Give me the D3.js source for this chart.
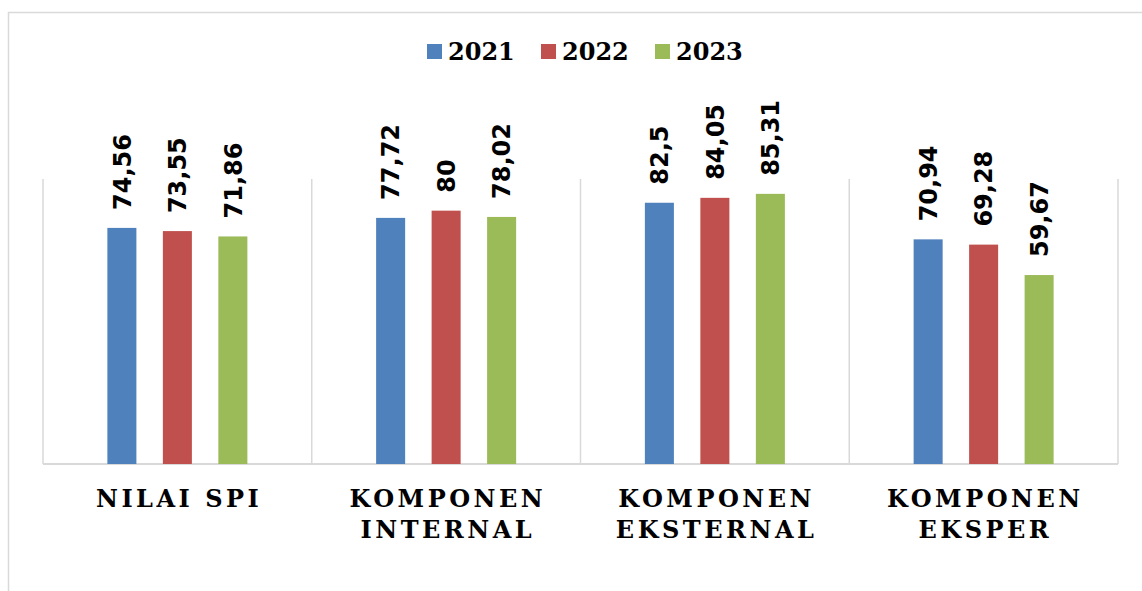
<!DOCTYPE html>
<html>
<head>
  <title>SPI chart</title>
  <script src="https://d3js.org/d3.v7.min.js"></script>
  <style>
  body {
    margin: 0;
    background: #fff;
  }
  .value {
    font-family: "DejaVu Sans", Verdana, sans-serif;
    font-weight: bold;
    font-size: 24px;
    fill: #000;
  }
  .legend text {
    font-family: "DejaVu Serif", serif;
    font-weight: bold;
    font-size: 24px;
    fill: #000;
  }
  .cat {
    font-family: "DejaVu Serif", serif;
    font-weight: bold;
    font-size: 24px;
    letter-spacing: 3.5px;
    fill: #000;
  }
  </style>
</head>
<body>
  <script>
    var categories = ["NILAI SPI", "KOMPONEN INTERNAL", "KOMPONEN EKSTERNAL", "KOMPONEN EKSPER"];
    var categoryLines = [["NILAI SPI"], ["KOMPONEN", "INTERNAL"], ["KOMPONEN", "EKSTERNAL"], ["KOMPONEN", "EKSPER"]];
    var years = ["2021", "2022", "2023"];
    var values2021 = [74.56, 77.72, 82.5, 70.94];
    var values2022 = [73.55, 80, 84.05, 69.28];
    var values2023 = [71.86, 78.02, 85.31, 59.67];
    var colors = ["#4f81bd", "#c0504d", "#9bbb59"];

    var seriesValues = [values2021, values2022, values2023];

    var width = 1142;
    var height = 591;

    var svg = d3.select("body")
      .append("svg")
      .attr("width", width)
      .attr("height", height);

    // outer chart frame (runs off the page right and bottom)
    svg.append("path")
      .attr("d", "M8.5," + (height + 2) + "V12.5H" + (width + 2))
      .attr("fill", "none")
      .attr("stroke", "#d9d9d9")
      .attr("stroke-width", 1.5);

    var x0 = d3.scaleBand()
      .domain(categories)
      .range([43, 1118])
      .padding(0);

    var x1 = d3.scaleBand()
      .domain(years)
      .range([0, x0.bandwidth()])
      .paddingInner(0.477)
      .paddingOuter(1.16);

    var y = d3.scaleLinear()
      .domain([0, 90])
      .range([464, 179]);

    // category separators
    var edges = categories.map(function(c) { return x0(c); }).concat([x0.range()[1]]);
    svg.append("g")
      .selectAll("line")
      .data(edges)
      .enter()
      .append("line")
      .attr("x1", function(d) { return d; })
      .attr("x2", function(d) { return d; })
      .attr("y1", y(90))
      .attr("y2", y(0))
      .attr("stroke", "#d9d9d9")
      .attr("stroke-width", 1.5);

    // baseline
    svg.append("line")
      .attr("x1", 43)
      .attr("x2", 1118)
      .attr("y1", y(0))
      .attr("y2", y(0))
      .attr("stroke", "#d9d9d9")
      .attr("stroke-width", 2);

    var rows = [];
    categories.forEach(function(c, ci) {
      years.forEach(function(yr, si) {
        rows.push({ cat: c, year: yr, value: seriesValues[si][ci], color: colors[si] });
      });
    });

    svg.append("g")
      .selectAll("rect")
      .data(rows)
      .enter()
      .append("rect")
      .attr("x", function(d) { return x0(d.cat) + x1(d.year); })
      .attr("y", function(d) { return y(d.value); })
      .attr("width", x1.bandwidth())
      .attr("height", function(d) { return y(0) - y(d.value); })
      .attr("fill", function(d) { return d.color; });

    svg.append("g")
      .selectAll("text")
      .data(rows)
      .enter()
      .append("text")
      .attr("class", "value")
      .attr("transform", function(d) {
        var cx = x0(d.cat) + x1(d.year) + x1.bandwidth() / 2;
        return "translate(" + cx + "," + (y(d.value) - 18) + ") rotate(-90)";
      })
      .attr("dy", "0.36em")
      .text(function(d) { return String(d.value).replace(".", ","); });

    // category labels
    var catG = svg.append("g")
      .selectAll("text")
      .data(categories)
      .enter()
      .append("text")
      .attr("class", "cat")
      .attr("text-anchor", "middle")
      .attr("x", function(d) { return x0(d) + x0.bandwidth() / 2 + 1.75; })
      .attr("y", 507);

    catG.selectAll("tspan")
      .data(function(d, i) { return categoryLines[i]; })
      .enter()
      .append("tspan")
      .attr("x", function() { return d3.select(this.parentNode).attr("x"); })
      .attr("dy", function(d, i) { return i === 0 ? 0 : 31; })
      .text(function(d) { return d; });

    // legend
    var legend = svg.append("g")
      .attr("class", "legend")
      .selectAll("g")
      .data(years)
      .enter()
      .append("g")
      .attr("transform", function(d, i) { return "translate(" + (427 + i * 114) + ",0)"; });

    legend.append("rect")
      .attr("x", 0)
      .attr("y", 44)
      .attr("width", 15)
      .attr("height", 15)
      .attr("fill", function(d, i) { return colors[i]; });

    legend.append("text")
      .attr("x", 21)
      .attr("y", 60)
      .text(function(d) { return d; });
  </script>
</body>
</html>
